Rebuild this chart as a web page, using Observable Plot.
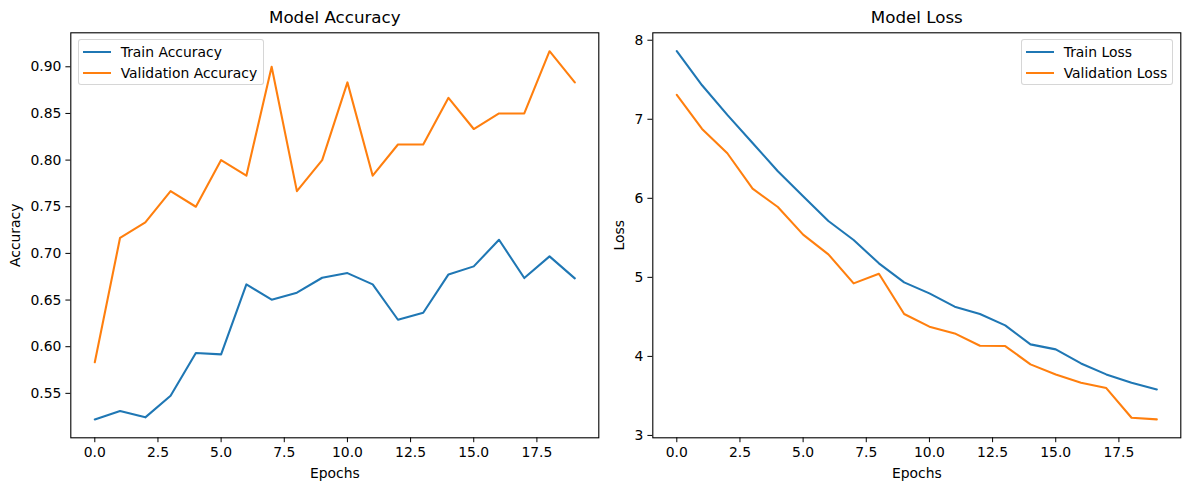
<!DOCTYPE html>
<html>
<head>
<meta charset="utf-8">
<script src="https://cdn.jsdelivr.net/npm/d3@7"></script>
<script src="https://cdn.jsdelivr.net/npm/@observablehq/plot@0.6"></script>
<style>
  html, body { margin: 0; padding: 0; background: #ffffff; }
  #figure { position: relative; width: 1189px; height: 490px; font-family: "DejaVu Sans", sans-serif; }
  .panel { position: absolute; top: 0; height: 490px; }
  .legend {
    position: absolute; box-sizing: border-box;
    border: 1px solid rgba(204, 204, 204, 0.8); border-radius: 3px;
    background: rgba(255, 255, 255, 0.8);
    font-family: "DejaVu Sans", sans-serif; font-size: 13.9px; color: #000;
  }
  .legend .row { position: absolute; left: 0; height: 20px; line-height: 20px; white-space: nowrap; }
  .legend .swatch { position: absolute; left: 4px; top: 9px; width: 28.4px; height: 2.1px; }
  .legend .label { position: absolute; left: 42px; top: 0; }
</style>
</head>
<body>
<div id="figure"></div>
<script>
// Training history: 20 epochs
const epochs = [0, 1, 2, 3, 4, 5, 6, 7, 8, 9, 10, 11, 12, 13, 14, 15, 16, 17, 18, 19];

const trainAccuracy = [0.5221, 0.5311, 0.5243, 0.5475, 0.5932, 0.5918, 0.6668, 0.6504, 0.6579, 0.6739,
                       0.6789, 0.6668, 0.6289, 0.6364, 0.6775, 0.6861, 0.7146, 0.6736, 0.6968, 0.6732];
const valAccuracy   = [0.5833, 0.7167, 0.7333, 0.7667, 0.7500, 0.8000, 0.7833, 0.9000, 0.7667, 0.8000,
                       0.8833, 0.7833, 0.8167, 0.8167, 0.8667, 0.8333, 0.8500, 0.8500, 0.9167, 0.8833];

const trainLoss = [7.861, 7.430, 7.055, 6.700, 6.342, 6.025, 5.713, 5.473, 5.177, 4.937,
                   4.797, 4.629, 4.536, 4.392, 4.152, 4.089, 3.911, 3.772, 3.667, 3.582];
const valLoss   = [7.308, 6.878, 6.570, 6.122, 5.890, 5.540, 5.291, 4.924, 5.046, 4.536,
                   4.376, 4.291, 4.135, 4.131, 3.899, 3.772, 3.667, 3.599, 3.224, 3.203];

const accuracySeries = ["Train Accuracy", "Validation Accuracy"];
const lossSeries = ["Train Loss", "Validation Loss"];
const seriesColors = ["#1f77b4", "#ff7f0e"];

const panelTitles = ["Model Accuracy", "Model Loss"];
const xLabel = "Epochs";
const yLabels = ["Accuracy", "Loss"];

const epochTicks = [0, 2.5, 5, 7.5, 10, 12.5, 15, 17.5];
const accuracyTicks = [0.55, 0.60, 0.65, 0.70, 0.75, 0.80, 0.85, 0.90];
const lossTicks = [3, 4, 5, 6, 7, 8];

// Axis limits with a 5% margin on each side of the data
function padded(values) {
  const [lo, hi] = d3.extent(values);
  const m = (hi - lo) * 0.05;
  return [lo - m, hi + m];
}

function longForm(names, series) {
  return names.flatMap((name, k) => epochs.map((e, i) => ({epoch: e, value: series[k][i], series: name})));
}

const font = "DejaVu Sans, sans-serif";
const tickFont = 13.9;

function panel({title, yLabel, names, series, yTicks, yFormat, width, marginLeft, marginRight, yLabelOffset}) {
  const rows = longForm(names, series);
  return Plot.plot({
    width, height: 490,
    marginLeft, marginRight, marginTop: 32.3, marginBottom: 52.7,
    style: {fontFamily: font, fontSize: `${tickFont}px`, color: "#000", background: "transparent", overflow: "visible"},
    x: {domain: padded(epochs)},
    y: {domain: padded(series.flat())},
    color: {domain: names, range: seriesColors},
    marks: [
      Plot.axisX({ticks: epochTicks, tickFormat: d3.format(".1f"), tickSize: 4.9, tickPadding: 4.5,
                  fontSize: tickFont, label: xLabel, labelAnchor: "center", labelArrow: "none", labelOffset: 40}),
      Plot.axisY({ticks: yTicks, tickFormat: yFormat, tickSize: 4.9, tickPadding: 4.5,
                  fontSize: tickFont, label: yLabel, labelAnchor: "center", labelArrow: "none", labelOffset: yLabelOffset}),
      Plot.lineY(rows, {x: "epoch", y: "value", stroke: "series", strokeWidth: 2.08}),
      Plot.frame({stroke: "#000", strokeWidth: 1.1}),
      Plot.text([title], {frameAnchor: "top", text: d => d, dy: -10.3, lineAnchor: "bottom", fontSize: 16.7, fill: "#000"})
    ]
  });
}

function legend(names, box) {
  const el = document.createElement("div");
  el.className = "legend";
  Object.assign(el.style, {left: box.left + "px", top: box.top + "px", width: box.width + "px", height: "45.7px"});
  names.forEach((name, i) => {
    const row = document.createElement("div");
    row.className = "row";
    row.style.top = (1.4 + 21 * i) + "px";
    row.innerHTML = `<span class="swatch" style="background:${seriesColors[i]}"></span><span class="label">${name}</span>`;
    el.appendChild(row);
  });
  return el;
}

const fig = document.getElementById("figure");

const left = document.createElement("div");
left.className = "panel";
left.style.left = "0px";
left.appendChild(panel({
  title: panelTitles[0], yLabel: yLabels[0], names: accuracySeries, series: [trainAccuracy, valAccuracy],
  yTicks: accuracyTicks, yFormat: d3.format(".2f"), width: 600, marginLeft: 70.3, marginRight: 1.7, yLabelOffset: 61
}));
left.appendChild(legend(accuracySeries, {left: 77.7, top: 39.3, width: 186.7}));
fig.appendChild(left);

const right = document.createElement("div");
right.className = "panel";
right.style.left = "600px";
right.appendChild(panel({
  title: panelTitles[1], yLabel: yLabels[1], names: lossSeries, series: [trainLoss, valLoss],
  yTicks: lossTicks, yFormat: d3.format("d"), width: 589, marginLeft: 52.3, marginRight: 8.7, yLabelOffset: 39
}));
right.appendChild(legend(lossSeries, {left: 420.7, top: 39.3, width: 152.6}));
fig.appendChild(right);
</script>
</body>
</html>
